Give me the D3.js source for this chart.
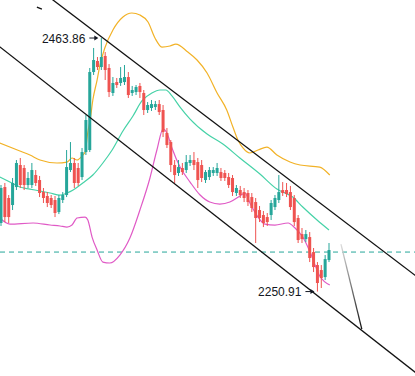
<!DOCTYPE html>
<html>
<head>
<meta charset="utf-8">
<script src="https://cdn.jsdelivr.net/npm/d3@7"></script>
<style>
  html, body { margin: 0; padding: 0; background: #fff; }
  svg { display: block; }
  .lbl { font-family: "Liberation Sans", Arial, sans-serif; font-size: 12px; fill: #131722; }
</style>
</head>
<body>
<script>

// candles: open, high, low, close (one per bar, in order)
var opens  = [2308.5,2338.7,2329.5,2323.6,2338.7,2357.2,2354.7,2340.4,2340.4,2348.8,
              2344.6,2334.5,2331.2,2329.5,2327.8,2317.7,2327.8,2332.0,2353.0,2358.9,
              2354.7,2347.1,2368.1,2369.8,2435.3,2444.6,2439.5,2448.8,2438.7,2417.7,
              2426.9,2426.1,2426.9,2431.1,2417.7,2418.5,2423.6,2417.7,2403.4,2405.1,
              2405.9,2408.4,2403.4,2384.1,2376.5,2357.2,2350.5,2354.7,2353.0,2358.9,
              2361.4,2359.7,2357.2,2344.6,2347.1,2350.5,2350.5,2351.3,2350.5,2347.1,
              2346.3,2333.7,2336.2,2334.5,2333.7,2330.3,2326.1,2319.4,2315.2,2313.5,
              2315.2,2321.9,2327.8,2336.2,2336.2,2334.5,2329.5,2312.7,2299.2,2295.0,
              2296.7,2284.1,2273.2,2269.0,2263.1,2277.4];
var highs  = [2340.4,2342.1,2332.0,2346.3,2361.4,2363.1,2357.2,2351.3,2358.9,2353.0,
              2348.0,2337.9,2334.5,2332.0,2331.2,2332.0,2334.5,2369.8,2376.5,2363.1,
              2358.9,2371.5,2399.2,2438.7,2455.5,2447.9,2463.86,2452.1,2442.0,2431.1,
              2430.3,2439.5,2441.2,2435.3,2423.6,2424.4,2426.1,2420.2,2410.1,2411.8,
              2411.0,2411.8,2407.6,2388.3,2378.2,2361.4,2361.4,2358.9,2365.6,2365.6,
              2368.1,2363.1,2361.4,2353.0,2355.5,2355.5,2358.9,2354.7,2353.0,2350.5,
              2348.8,2340.4,2339.6,2337.9,2336.2,2333.7,2329.5,2322.8,2318.6,2316.9,
              2327.8,2332.0,2348.8,2342.9,2342.1,2339.6,2332.0,2315.2,2304.3,2302.6,
              2300.9,2287.5,2275.7,2273.2,2281.6,2291.7];
var lows   = [2306.0,2309.3,2308.5,2319.4,2336.2,2337.9,2336.2,2337.9,2337.9,2339.6,
              2330.3,2325.3,2321.9,2321.1,2313.5,2316.0,2325.3,2330.3,2351.3,2337.9,
              2339.6,2344.6,2365.6,2368.1,2432.8,2437.0,2437.0,2428.6,2414.3,2415.2,
              2421.9,2423.6,2424.4,2413.5,2415.2,2416.0,2413.5,2399.2,2400.9,2402.6,
              2403.4,2399.2,2380.7,2371.5,2351.3,2342.1,2348.0,2348.8,2350.5,2356.4,
              2353.0,2337.9,2342.9,2342.1,2344.6,2348.0,2348.0,2343.8,2343.8,2337.9,
              2331.2,2331.2,2329.5,2326.1,2322.8,2317.7,2291.7,2309.3,2305.1,2306.0,
              2311.0,2319.4,2325.3,2331.2,2330.3,2319.4,2306.0,2291.7,2291.7,2292.5,
              2275.7,2267.3,2250.91,2253.9,2260.6,2275.7];
var closes = [2337.9,2313.5,2313.5,2342.1,2358.9,2340.4,2340.4,2346.3,2353.0,2342.1,
              2333.7,2329.5,2325.3,2323.6,2316.9,2329.5,2332.0,2355.5,2358.9,2342.1,
              2342.1,2368.1,2395.0,2435.3,2445.4,2439.5,2447.9,2437.0,2418.5,2426.1,
              2424.4,2430.3,2431.1,2416.0,2420.2,2422.7,2418.5,2403.4,2407.6,2408.4,
              2408.4,2401.7,2384.9,2374.0,2357.2,2348.8,2355.5,2351.3,2359.7,2361.4,
              2357.2,2344.6,2346.3,2351.3,2353.0,2353.0,2354.7,2346.3,2346.3,2340.4,
              2334.5,2337.9,2332.0,2329.5,2326.1,2321.1,2312.7,2312.7,2308.5,2309.3,
              2325.3,2329.5,2334.5,2333.7,2332.8,2321.9,2309.3,2294.2,2295.0,2299.2,
              2279.1,2271.5,2258.1,2262.3,2278.2,2285.8];

// bollinger bands: [bar index, price]
var upperBand = [[-0.3,2375.7],[4.9,2369.0],[7.5,2365.6],[10.1,2361.4],[14.5,2358.9],
  [17.1,2359.7],[18.4,2363.1],[19.7,2361.4],[21.2,2365.6],[21.8,2368.1],[22.5,2384.9],
  [23.1,2395.0],[23.8,2411.8],[24.9,2428.6],[25.6,2440.4],[26.9,2455.5],[29.0,2470.6],
  [31.6,2481.5],[33.9,2484.9],[36.0,2483.2],[38.1,2477.3],[39.9,2463.9],[41.7,2456.3],
  [43.8,2457.2],[45.3,2458.8],[48.4,2452.1],[50.8,2445.4],[53.4,2434.5],[56.0,2417.7],
  [58.5,2403.4],[60.1,2389.1],[61.4,2378.2],[62.7,2371.5],[64.5,2367.3],[66.6,2369.8],
  [68.9,2372.3],[71.5,2365.6],[74.9,2359.7],[77.5,2357.2],[82.6,2355.5],[85.2,2348.8]];
var middleBand = [[-0.3,2347.1],[2.3,2342.9],[4.9,2338.7],[7.5,2337.0],[10.1,2335.4],
  [12.7,2333.7],[15.3,2332.0],[17.1,2333.7],[18.7,2336.2],[21.2,2342.1],[23.8,2348.8],
  [26.4,2358.9],[28.8,2369.8],[31.6,2385.8],[34.2,2398.4],[36.5,2411.0],[39.1,2417.7],
  [41.2,2420.2],[42.7,2420.2],[44.3,2415.2],[46.4,2405.9],[49.0,2395.8],[53.4,2383.2],
  [57.5,2374.8],[61.9,2363.1],[67.1,2349.6],[71.5,2337.0],[75.6,2330.3],[78.2,2321.9],
  [81.9,2311.0],[85.0,2302.6]];
var lowerBand = [[-0.3,2312.7],[2.3,2307.6],[8.3,2308.5],[12.7,2306.8],[15.3,2306.0],
  [17.1,2305.1],[18.4,2306.8],[19.7,2312.7],[21.8,2313.5],[22.5,2311.0],[23.6,2296.7],
  [24.9,2285.8],[26.4,2275.7],[28.2,2274.9],[30.8,2281.6],[33.4,2295.9],[36.0,2319.4],
  [38.6,2346.3],[40.4,2369.8],[42.0,2387.4],[43.0,2384.1],[44.3,2371.5],[46.4,2355.5],
  [49.0,2342.9],[51.6,2332.0],[54.1,2326.1],[56.7,2324.4],[59.3,2326.1],[61.9,2331.2],
  [63.2,2333.7],[64.5,2325.3],[66.6,2313.5],[68.4,2307.6],[71.0,2306.8],[74.4,2308.5],
  [76.2,2304.3],[78.2,2296.7],[80.1,2284.1],[82.6,2264.0],[85.2,2256.4]];

// drawings
var channelTop = [[12.5,2498.2],[108,2262.9]];
var channelBottom = [[-0.5,2456.9],[108,2181.5]];
var projection = [[88.1,2290.8],[93.5,2219.4]];
var tinyMark = [[9.3,2489.9],[10.6,2488.2]];
var levelPrice = 2284.1;

// marked extremes
var highMark = {bar: 26, price: 2463.86, label: "2463.86"};
var lowMark = {bar: 82, price: 2250.91, label: "2250.91"};

var w = 415, h = 376;
var upColor = "#26a69a", downColor = "#ef5350";

var svg = d3.select("body").append("svg")
  .attr("width", w)
  .attr("height", h);

var x = d3.scaleLinear().domain([0, opens.length - 1]).range([1, 329]);
var y = d3.scaleLinear().domain([2180.0, 2495.8]).range([h, 0]);

var line = d3.line()
  .x(function(d) { return x(d[0]); })
  .y(function(d) { return y(d[1]); });

var smooth = d3.line()
  .curve(d3.curveMonotoneX)
  .x(function(d) { return x(d[0]); })
  .y(function(d) { return y(d[1]); });

// dashed level
svg.append("line")
  .attr("x1", 0).attr("x2", w)
  .attr("y1", y(levelPrice)).attr("y2", y(levelPrice))
  .attr("stroke", upColor)
  .attr("stroke-width", 1)
  .attr("stroke-dasharray", "5,4");

// bands
var bands = [[upperBand, "#f2b227"], [middleBand, "#46d2a7"], [lowerBand, "#e05ac6"]];
bands.forEach(function(b) {
  svg.append("path")
    .datum(b[0])
    .attr("d", smooth)
    .attr("fill", "none")
    .attr("stroke", b[1])
    .attr("stroke-width", 1.2);
});

// candles
var bars = d3.range(opens.length);
var g = svg.append("g");
g.selectAll(".wick")
  .data(bars).enter().append("line")
  .attr("x1", function(i) { return x(i); })
  .attr("x2", function(i) { return x(i); })
  .attr("y1", function(i) { return y(highs[i]); })
  .attr("y2", function(i) { return y(lows[i]); })
  .attr("stroke", function(i) { return closes[i] >= opens[i] ? upColor : downColor; })
  .attr("stroke-width", 1);

g.selectAll(".body")
  .data(bars).enter().append("rect")
  .attr("x", function(i) { return x(i) - 1.5; })
  .attr("width", 3)
  .attr("y", function(i) { return y(Math.max(opens[i], closes[i])); })
  .attr("height", function(i) {
    return Math.max(1, Math.abs(y(opens[i]) - y(closes[i])));
  })
  .attr("fill", function(i) { return closes[i] >= opens[i] ? upColor : downColor; });

// channel lines
[channelTop, channelBottom, tinyMark].forEach(function(l) {
  svg.append("path")
    .datum(l)
    .attr("d", line)
    .attr("fill", "none")
    .attr("stroke", "#111")
    .attr("stroke-width", 1.3);
});

// projection, fading in from the top
var grad = svg.append("defs").append("linearGradient")
  .attr("id", "fade")
  .attr("gradientUnits", "userSpaceOnUse")
  .attr("x1", x(projection[0][0])).attr("y1", y(projection[0][1]))
  .attr("x2", x(projection[1][0])).attr("y2", y(projection[1][1]));
grad.append("stop").attr("offset", "0%").attr("stop-color", "#ddd");
grad.append("stop").attr("offset", "100%").attr("stop-color", "#111");

svg.append("path")
  .datum(projection)
  .attr("d", line)
  .attr("fill", "none")
  .attr("stroke", "url(#fade)")
  .attr("stroke-width", 1.3);

// high / low labels with arrows
function markLabel(m) {
  var tipX = x(m.bar) - 3, tipY = y(m.price);
  svg.append("line")
    .attr("x1", tipX - 9).attr("x2", tipX - 3)
    .attr("y1", tipY).attr("y2", tipY)
    .attr("stroke", "#131722").attr("stroke-width", 1);
  svg.append("path")
    .attr("d", "M" + tipX + "," + tipY + "l-4,-2.5l0,5z")
    .attr("fill", "#131722");
  svg.append("text")
    .attr("class", "lbl")
    .attr("x", tipX - 13)
    .attr("y", tipY + 4.5)
    .attr("text-anchor", "end")
    .text(m.label);
}
markLabel(highMark);
markLabel(lowMark);

</script>
</body>
</html>
